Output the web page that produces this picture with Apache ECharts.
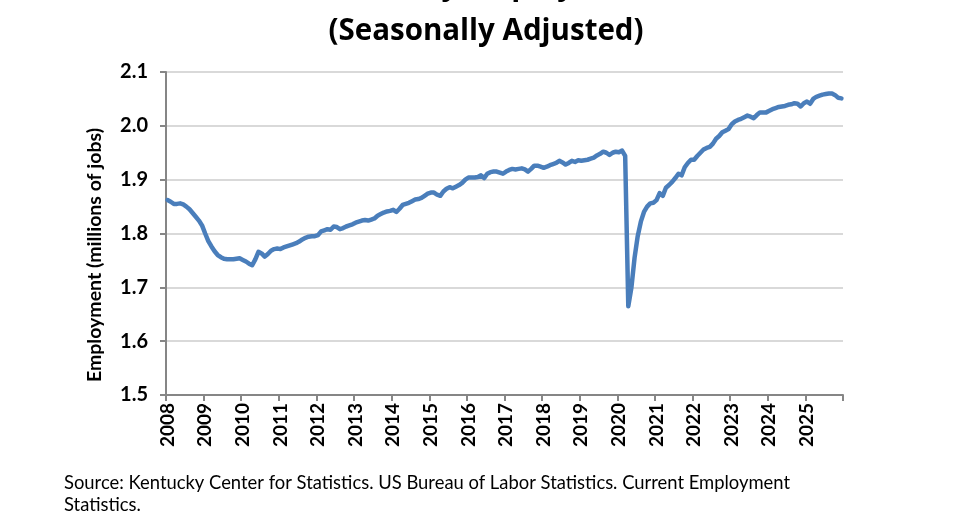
<!DOCTYPE html>
<html>
<head>
<meta charset="utf-8">
<script src="https://cdn.jsdelivr.net/npm/echarts@6/dist/echarts.min.js"></script>
<style>
html,body{margin:0;padding:0;background:#fff;}
#chart{width:976px;height:512px;}
</style>
</head>
<body>
<div id="chart"></div>
<script>
// Monthly employment (millions of jobs), Jan..Dec per year
var y2008 = [1.862, 1.859, 1.855, 1.855, 1.856, 1.854, 1.850, 1.845, 1.838, 1.831, 1.824, 1.815];
var y2009 = [1.800, 1.786, 1.776, 1.767, 1.760, 1.756, 1.753, 1.752, 1.752, 1.752, 1.753, 1.754];
var y2010 = [1.751, 1.748, 1.744, 1.741, 1.752, 1.766, 1.763, 1.757, 1.762, 1.768, 1.771, 1.772];
var y2011 = [1.771, 1.774, 1.776, 1.778, 1.780, 1.782, 1.785, 1.789, 1.792, 1.794, 1.795, 1.795];
var y2012 = [1.797, 1.804, 1.806, 1.808, 1.807, 1.813, 1.812, 1.808, 1.810, 1.813, 1.815, 1.817];
var y2013 = [1.820, 1.822, 1.824, 1.825, 1.824, 1.826, 1.828, 1.833, 1.836, 1.839, 1.841, 1.842];
var y2014 = [1.844, 1.840, 1.846, 1.853, 1.855, 1.857, 1.860, 1.863, 1.864, 1.866, 1.870, 1.874];
var y2015 = [1.876, 1.876, 1.872, 1.870, 1.878, 1.883, 1.886, 1.884, 1.887, 1.890, 1.894, 1.900];
var y2016 = [1.904, 1.904, 1.904, 1.905, 1.908, 1.903, 1.911, 1.914, 1.915, 1.915, 1.913, 1.911];
var y2017 = [1.915, 1.918, 1.920, 1.919, 1.920, 1.921, 1.919, 1.915, 1.920, 1.926, 1.926, 1.924];
var y2018 = [1.922, 1.924, 1.927, 1.929, 1.931, 1.935, 1.932, 1.928, 1.931, 1.935, 1.933, 1.936];
var y2019 = [1.935, 1.936, 1.937, 1.939, 1.941, 1.945, 1.948, 1.952, 1.950, 1.946, 1.950, 1.952];
var y2020 = [1.951, 1.954, 1.944, 1.665, 1.700, 1.755, 1.795, 1.822, 1.840, 1.850, 1.856, 1.857];
var y2021 = [1.862, 1.875, 1.870, 1.885, 1.890, 1.896, 1.903, 1.911, 1.908, 1.923, 1.931, 1.937];
var y2022 = [1.937, 1.944, 1.950, 1.956, 1.959, 1.961, 1.967, 1.976, 1.981, 1.988, 1.991, 1.994];
var y2023 = [2.003, 2.008, 2.011, 2.013, 2.016, 2.019, 2.017, 2.014, 2.020, 2.025, 2.025, 2.025];
var y2024 = [2.028, 2.031, 2.033, 2.035, 2.036, 2.037, 2.039, 2.040, 2.042, 2.041, 2.036, 2.042];
var y2025 = [2.045, 2.041, 2.050, 2.054, 2.056, 2.058, 2.059, 2.060, 2.060, 2.057, 2.052, 2.051];

var years = [2008,2009,2010,2011,2012,2013,2014,2015,2016,2017,2018,2019,2020,2021,2022,2023,2024,2025];
var months = ['01','02','03','04','05','06','07','08','09','10','11','12'];
var yTicks = [1.5, 1.6, 1.7, 1.8, 1.9, 2.0, 2.1];

var titleLine1 = 'Kentucky Employment';
var titleLine2 = '(Seasonally Adjusted)';
var yAxisName = 'Employment (millions of jobs)';
var sourceText = 'Source: Kentucky Center for Statistics. US Bureau of Labor Statistics. Current Employment\nStatistics.';

var yearly = [y2008,y2009,y2010,y2011,y2012,y2013,y2014,y2015,y2016,y2017,y2018,y2019,y2020,y2021,y2022,y2023,y2024,y2025];
var categories = [];
var values = [];
years.forEach(function (yr, i) {
  months.forEach(function (m, j) {
    categories.push(yr + '-' + m);
    values.push(yearly[i][j]);
  });
});

var FONT = 'Lato';
var TFONT = 'Open Sans';
var chart = echarts.init(document.getElementById('chart'));
chart.setOption({
  backgroundColor: '#ffffff',
  animation: false,
  graphic: [
    {
      type: 'text', x: 486, y: -13.5,
      style: {text: titleLine1, fontFamily: TFONT, fontSize: 29.5, fontWeight: 'bold', fill: '#000',
              textAlign: 'center', textVerticalAlign: 'middle'}
    },
    {
      type: 'text', x: 486, y: 32,
      style: {text: titleLine2, fontFamily: TFONT, fontSize: 29.5, fontWeight: 'bold', fill: '#000',
              textAlign: 'center', textVerticalAlign: 'middle'}
    },
    {
      type: 'text', x: 95, y: 255, rotation: Math.PI / 2,
      style: {text: yAxisName, fontFamily: FONT, fontSize: 19.5, fontWeight: 'bold', fill: '#000',
              textAlign: 'center', textVerticalAlign: 'middle'}
    },
    {
      type: 'text', left: 64, top: 472,
      style: {text: sourceText, fontFamily: FONT, fontSize: 18.4, fill: '#000', lineHeight: 22}
    }
  ],
  grid: {left: 166, right: 133, top: 72, bottom: 117, containLabel: false},
  xAxis: {
    type: 'category',
    data: categories,
    boundaryGap: true,
    axisLine: {show: true, lineStyle: {color: '#868686', width: 2}},
    axisTick: {show: true, interval: 11, length: 6, lineStyle: {color: '#868686', width: 2}},
    axisLabel: {
      interval: 11,
      rotate: 90,
      margin: 8,
      fontFamily: FONT, fontSize: 19, fontWeight: 'bold', color: '#000',
      formatter: function (v) { return v.slice(5) === '01' ? v.slice(0, 4) : ''; }
    },
    splitLine: {show: false}
  },
  yAxis: {
    type: 'value',
    min: yTicks[0],
    max: yTicks[yTicks.length - 1],
    interval: 0.1,
    axisLine: {show: true, lineStyle: {color: '#868686', width: 2}},
    axisTick: {show: true, length: 6, lineStyle: {color: '#868686', width: 2}},
    axisLabel: {
      margin: 18,
      fontFamily: FONT, fontSize: 20, fontWeight: 'bold', color: '#000',
      formatter: function (v) { return v.toFixed(1); }
    },
    splitLine: {show: true, lineStyle: {color: '#d9d9d9', width: 2}}
  },
  series: [{
    type: 'line',
    data: values,
    showSymbol: false,
    symbol: 'none',
    smooth: false,
    lineStyle: {color: '#4a7ebb', width: 4.5, join: 'round', cap: 'round'},
    itemStyle: {color: '#4a7ebb'}
  }]
});
</script>
</body>
</html>
